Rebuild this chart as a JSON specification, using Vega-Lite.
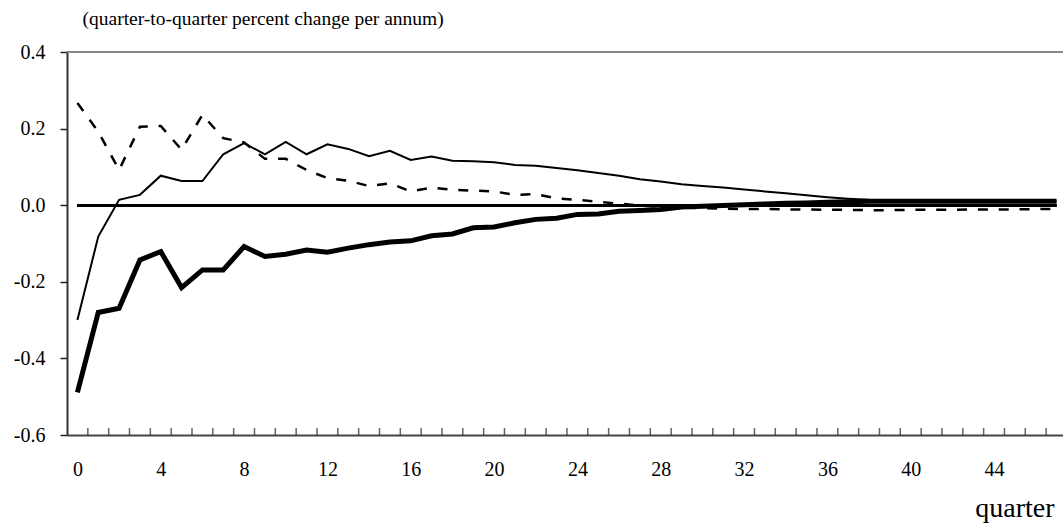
{
  "$schema": "https://vega.github.io/schema/vega-lite/v6.json",
  "autosize": "none",
  "width": 996,
  "height": 383,
  "padding": {"left": 67, "top": 52, "right": 0, "bottom": 91},
  "background": "white",
  "config": {
    "view": {"stroke": null},
    "font": "Liberation Serif, Times New Roman, serif",
    "axis": {
      "labelFont": "Liberation Serif, Times New Roman, serif",
      "titleFont": "Liberation Serif, Times New Roman, serif",
      "labelColor": "black",
      "titleColor": "black",
      "titleFontWeight": "normal",
      "grid": false
    }
  },
  "datasets": {
    "irf": [
      {"q": 0, "thin": -0.300, "thick": -0.489, "dashed": 0.267},
      {"q": 1, "thin": -0.082, "thick": -0.280, "dashed": 0.192},
      {"q": 2, "thin": 0.014, "thick": -0.269, "dashed": 0.092},
      {"q": 3, "thin": 0.027, "thick": -0.143, "dashed": 0.205},
      {"q": 4, "thin": 0.077, "thick": -0.121, "dashed": 0.207},
      {"q": 5, "thin": 0.063, "thick": -0.215, "dashed": 0.145},
      {"q": 6, "thin": 0.063, "thick": -0.169, "dashed": 0.236},
      {"q": 7, "thin": 0.133, "thick": -0.169, "dashed": 0.175},
      {"q": 8, "thin": 0.162, "thick": -0.108, "dashed": 0.164},
      {"q": 9, "thin": 0.133, "thick": -0.134, "dashed": 0.121},
      {"q": 10, "thin": 0.165, "thick": -0.128, "dashed": 0.121},
      {"q": 11, "thin": 0.133, "thick": -0.117, "dashed": 0.092},
      {"q": 12, "thin": 0.159, "thick": -0.123, "dashed": 0.071},
      {"q": 13, "thin": 0.147, "thick": -0.112, "dashed": 0.064},
      {"q": 14, "thin": 0.128, "thick": -0.103, "dashed": 0.050},
      {"q": 15, "thin": 0.142, "thick": -0.096, "dashed": 0.057},
      {"q": 16, "thin": 0.118, "thick": -0.093, "dashed": 0.036},
      {"q": 17, "thin": 0.127, "thick": -0.080, "dashed": 0.046},
      {"q": 18, "thin": 0.116, "thick": -0.075, "dashed": 0.040},
      {"q": 19, "thin": 0.115, "thick": -0.059, "dashed": 0.038},
      {"q": 20, "thin": 0.112, "thick": -0.057, "dashed": 0.036},
      {"q": 21, "thin": 0.105, "thick": -0.046, "dashed": 0.027},
      {"q": 22, "thin": 0.103, "thick": -0.037, "dashed": 0.029},
      {"q": 23, "thin": 0.097, "thick": -0.034, "dashed": 0.018},
      {"q": 24, "thin": 0.091, "thick": -0.024, "dashed": 0.014},
      {"q": 25, "thin": 0.084, "thick": -0.023, "dashed": 0.009},
      {"q": 26, "thin": 0.077, "thick": -0.016, "dashed": 0.004},
      {"q": 27, "thin": 0.068, "thick": -0.014, "dashed": -0.001},
      {"q": 28, "thin": 0.062, "thick": -0.011, "dashed": -0.004},
      {"q": 29, "thin": 0.055, "thick": -0.005, "dashed": -0.006},
      {"q": 30, "thin": 0.050, "thick": -0.003, "dashed": -0.008},
      {"q": 31, "thin": 0.046, "thick": -0.001, "dashed": -0.009},
      {"q": 32, "thin": 0.041, "thick": 0.001, "dashed": -0.010},
      {"q": 33, "thin": 0.036, "thick": 0.003, "dashed": -0.010},
      {"q": 34, "thin": 0.031, "thick": 0.005, "dashed": -0.011},
      {"q": 35, "thin": 0.026, "thick": 0.006, "dashed": -0.011},
      {"q": 36, "thin": 0.021, "thick": 0.008, "dashed": -0.012},
      {"q": 37, "thin": 0.017, "thick": 0.009, "dashed": -0.012},
      {"q": 38, "thin": 0.014, "thick": 0.010, "dashed": -0.013},
      {"q": 39, "thin": 0.013, "thick": 0.010, "dashed": -0.013},
      {"q": 40, "thin": 0.012, "thick": 0.010, "dashed": -0.012},
      {"q": 41, "thin": 0.011, "thick": 0.010, "dashed": -0.012},
      {"q": 42, "thin": 0.011, "thick": 0.010, "dashed": -0.012},
      {"q": 43, "thin": 0.010, "thick": 0.010, "dashed": -0.011},
      {"q": 44, "thin": 0.010, "thick": 0.010, "dashed": -0.011},
      {"q": 45, "thin": 0.010, "thick": 0.010, "dashed": -0.011},
      {"q": 46, "thin": 0.010, "thick": 0.010, "dashed": -0.010},
      {"q": 47, "thin": 0.010, "thick": 0.010, "dashed": -0.010}
    ],
    "quarterEdges": [
      {"b": 0.5}, {"b": 1.5}, {"b": 2.5}, {"b": 3.5}, {"b": 4.5}, {"b": 5.5}, {"b": 6.5}, {"b": 7.5},
      {"b": 8.5}, {"b": 9.5}, {"b": 10.5}, {"b": 11.5}, {"b": 12.5}, {"b": 13.5}, {"b": 14.5}, {"b": 15.5},
      {"b": 16.5}, {"b": 17.5}, {"b": 18.5}, {"b": 19.5}, {"b": 20.5}, {"b": 21.5}, {"b": 22.5}, {"b": 23.5},
      {"b": 24.5}, {"b": 25.5}, {"b": 26.5}, {"b": 27.5}, {"b": 28.5}, {"b": 29.5}, {"b": 30.5}, {"b": 31.5},
      {"b": 32.5}, {"b": 33.5}, {"b": 34.5}, {"b": 35.5}, {"b": 36.5}, {"b": 37.5}, {"b": 38.5}, {"b": 39.5},
      {"b": 40.5}, {"b": 41.5}, {"b": 42.5}, {"b": 43.5}, {"b": 44.5}, {"b": 45.5}, {"b": 46.5}
    ]
  },
  "data": {"name": "irf"},
  "encoding": {
    "x": {
      "field": "q",
      "type": "quantitative",
      "scale": {"domain": [-0.5, 47.31], "nice": false, "zero": false},
      "axis": {
        "grid": false,
        "ticks": false,
        "values": [0, 4, 8, 12, 16, 20, 24, 28, 32, 36, 40, 44],
        "labelFlush": false,
        "labelOverlap": false,
        "labelBound": false,
        "labelFont": "Liberation Serif, Times New Roman, serif",
        "labelFontSize": 20,
        "labelPadding": 24,
        "domainColor": "#444",
        "domainWidth": 2,
        "title": "quarter",
        "titleFont": "Liberation Serif, Times New Roman, serif",
        "titleFontSize": 28,
        "titleAlign": "right",
        "titleBaseline": "alphabetic",
        "titleAnchor": null,
        "titleX": 987,
        "titleY": 81
      }
    }
  },
  "layer": [
    {
      "mark": {"type": "rule", "color": "#888", "strokeWidth": 2},
      "encoding": {"x": {"datum": -0.5}, "x2": {"datum": 47.31}, "y": {"datum": 0.4}}
    },
    {
      "data": {"name": "quarterEdges"},
      "mark": {"type": "tick", "orient": "vertical", "size": 7, "thickness": 1.5, "color": "#222", "yOffset": -3.5},
      "encoding": {"x": {"field": "b", "type": "quantitative"}, "y": {"datum": -0.6}}
    },
    {
      "mark": {"type": "rule", "color": "black", "strokeWidth": 2},
      "encoding": {"y": {"datum": 0}, "x": {"datum": 0}, "x2": {"datum": 47}}
    },
    {
      "mark": {"type": "line", "color": "black", "strokeWidth": 2.5, "strokeDash": [10, 10.83]},
      "encoding": {"y": {"field": "dashed", "type": "quantitative"}}
    },
    {
      "mark": {"type": "line", "color": "black", "strokeWidth": 2},
      "encoding": {"y": {"field": "thin", "type": "quantitative"}}
    },
    {
      "mark": {"type": "line", "color": "black", "strokeWidth": 5},
      "encoding": {
        "y": {
          "field": "thick",
          "type": "quantitative",
          "scale": {"domain": [-0.6, 0.4], "nice": false, "zero": false},
          "axis": {
            "grid": false,
            "values": [-0.6, -0.4, -0.2, 0, 0.2, 0.4],
            "labelExpr": "replace(format(datum.value, '.1f'), '\u2212', '-')",
            "labelFont": "Liberation Serif, Times New Roman, serif",
            "labelFontSize": 20,
            "labelPadding": 15,
            "tickSize": 7,
            "tickWidth": 1.5,
            "tickColor": "#222",
            "domainColor": "#333",
            "domainWidth": 2,
            "title": "(quarter-to-quarter percent change per annum)",
            "titleFont": "Liberation Serif, Times New Roman, serif",
            "titleFontSize": 19.5,
            "titleAngle": 0,
            "titleAlign": "left",
            "titleBaseline": "alphabetic",
            "titleAnchor": null,
            "titleX": 15,
            "titleY": -28
          }
        }
      }
    }
  ]
}
